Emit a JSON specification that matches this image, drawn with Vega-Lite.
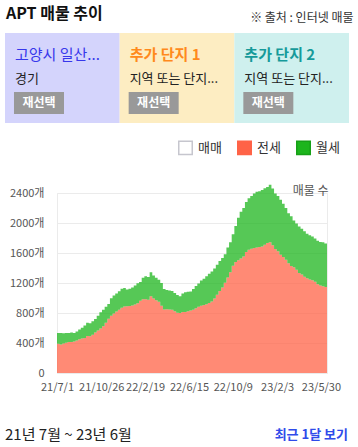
{
  "$schema": "https://vega.github.io/schema/vega-lite/v6.json",
  "padding": 0,
  "background": "white",
  "config": {"font": "Noto Sans CJK KR", "view": {"stroke": null}},
  "columns": 1,
  "spacing": 0,
  "resolve": {"scale": {"x": "independent", "y": "independent", "color": "independent", "fill": "independent", "stroke": "independent"}},
  "datasets": {
    "boxes": [
      {"slot": "1", "name": "고양시 일산...", "region": "경기", "button": "재선택"},
      {"slot": "2", "name": "추가 단지 1", "region": "지역 또는 단지...", "button": "재선택"},
      {"slot": "3", "name": "추가 단지 2", "region": "지역 또는 단지...", "button": "재선택"}
    ],
    "series": [
      {"date": "2021-07-01", "전세": 391, "월세": 142},
      {"date": "2021-07-08", "전세": 380, "월세": 153},
      {"date": "2021-07-15", "전세": 395, "월세": 135},
      {"date": "2021-07-22", "전세": 405, "월세": 128},
      {"date": "2021-07-29", "전세": 413, "월세": 122},
      {"date": "2021-08-05", "전세": 413, "월세": 127},
      {"date": "2021-08-12", "전세": 420, "월세": 113},
      {"date": "2021-08-19", "전세": 435, "월세": 120},
      {"date": "2021-08-26", "전세": 450, "월세": 130},
      {"date": "2021-09-02", "전세": 460, "월세": 145},
      {"date": "2021-09-09", "전세": 467, "월세": 165},
      {"date": "2021-09-16", "전세": 495, "월세": 175},
      {"date": "2021-09-23", "전세": 490, "월세": 172},
      {"date": "2021-09-30", "전세": 510, "월세": 180},
      {"date": "2021-10-07", "전세": 540, "월세": 180},
      {"date": "2021-10-14", "전세": 568, "월세": 194},
      {"date": "2021-10-21", "전세": 595, "월세": 215},
      {"date": "2021-10-28", "전세": 625, "월세": 220},
      {"date": "2021-11-04", "전세": 670, "월세": 215},
      {"date": "2021-11-11", "전세": 725, "월세": 195},
      {"date": "2021-11-18", "전세": 762, "월세": 236},
      {"date": "2021-11-25", "전세": 795, "월세": 240},
      {"date": "2021-12-02", "전세": 820, "월세": 240},
      {"date": "2021-12-09", "전세": 845, "월세": 245},
      {"date": "2021-12-16", "전세": 870, "월세": 252},
      {"date": "2021-12-23", "전세": 888, "월세": 244},
      {"date": "2021-12-30", "전세": 889, "월세": 226},
      {"date": "2022-01-06", "전세": 894, "월세": 228},
      {"date": "2022-01-13", "전세": 900, "월세": 240},
      {"date": "2022-01-20", "전세": 912, "월세": 254},
      {"date": "2022-01-27", "전세": 930, "월세": 266},
      {"date": "2022-02-03", "전세": 965, "월세": 250},
      {"date": "2022-02-10", "전세": 982, "월세": 288},
      {"date": "2022-02-17", "전세": 985, "월세": 304},
      {"date": "2022-02-24", "전세": 978, "월세": 302},
      {"date": "2022-03-03", "전세": 1022, "월세": 323},
      {"date": "2022-03-10", "전세": 995, "월세": 305},
      {"date": "2022-03-17", "전세": 970, "월세": 300},
      {"date": "2022-03-24", "전세": 950, "월세": 295},
      {"date": "2022-03-31", "전세": 898, "월세": 302},
      {"date": "2022-04-07", "전세": 848, "월세": 272},
      {"date": "2022-04-14", "전세": 850, "월세": 258},
      {"date": "2022-04-21", "전세": 848, "월세": 252},
      {"date": "2022-04-28", "전세": 842, "월세": 250},
      {"date": "2022-05-05", "전세": 822, "월세": 245},
      {"date": "2022-05-12", "전세": 805, "월세": 235},
      {"date": "2022-05-19", "전세": 800, "월세": 225},
      {"date": "2022-05-26", "전세": 812, "월세": 248},
      {"date": "2022-06-02", "전세": 814, "월세": 264},
      {"date": "2022-06-09", "전세": 822, "월세": 262},
      {"date": "2022-06-16", "전세": 832, "월세": 256},
      {"date": "2022-06-23", "전세": 845, "월세": 275},
      {"date": "2022-06-30", "전세": 862, "월세": 298},
      {"date": "2022-07-07", "전세": 882, "월세": 313},
      {"date": "2022-07-14", "전세": 897, "월세": 335},
      {"date": "2022-07-21", "전세": 908, "월세": 350},
      {"date": "2022-07-28", "전세": 918, "월세": 372},
      {"date": "2022-08-04", "전세": 932, "월세": 390},
      {"date": "2022-08-11", "전세": 955, "월세": 400},
      {"date": "2022-08-18", "전세": 995, "월세": 400},
      {"date": "2022-08-25", "전세": 1045, "월세": 400},
      {"date": "2022-09-01", "전세": 1092, "월세": 400},
      {"date": "2022-09-08", "전세": 1140, "월세": 395},
      {"date": "2022-09-15", "전세": 1205, "월세": 377},
      {"date": "2022-09-22", "전세": 1275, "월세": 397},
      {"date": "2022-09-29", "전세": 1345, "월세": 400},
      {"date": "2022-10-06", "전세": 1430, "월세": 420},
      {"date": "2022-10-13", "전세": 1480, "월세": 480},
      {"date": "2022-10-20", "전세": 1505, "월세": 565},
      {"date": "2022-10-27", "전세": 1528, "월세": 622},
      {"date": "2022-11-03", "전세": 1555, "월세": 645},
      {"date": "2022-11-10", "전세": 1615, "월세": 665},
      {"date": "2022-11-17", "전세": 1644, "월세": 686},
      {"date": "2022-11-24", "전세": 1658, "월세": 702},
      {"date": "2022-12-01", "전세": 1667, "월세": 728},
      {"date": "2022-12-08", "전세": 1675, "월세": 743},
      {"date": "2022-12-15", "전세": 1680, "월세": 742},
      {"date": "2022-12-22", "전세": 1688, "월세": 752},
      {"date": "2022-12-29", "전세": 1710, "월세": 755},
      {"date": "2023-01-05", "전세": 1733, "월세": 747},
      {"date": "2023-01-12", "전세": 1742, "월세": 768},
      {"date": "2023-01-19", "전세": 1705, "월세": 755},
      {"date": "2023-01-26", "전세": 1655, "월세": 737},
      {"date": "2023-02-02", "전세": 1625, "월세": 735},
      {"date": "2023-02-09", "전세": 1578, "월세": 733},
      {"date": "2023-02-16", "전세": 1547, "월세": 711},
      {"date": "2023-02-23", "전세": 1511, "월세": 689},
      {"date": "2023-03-02", "전세": 1465, "월세": 665},
      {"date": "2023-03-09", "전세": 1428, "월세": 662},
      {"date": "2023-03-16", "전세": 1410, "월세": 625},
      {"date": "2023-03-23", "전세": 1377, "월세": 615},
      {"date": "2023-03-30", "전세": 1335, "월세": 620},
      {"date": "2023-04-06", "전세": 1312, "월세": 610},
      {"date": "2023-04-13", "전세": 1285, "월세": 605},
      {"date": "2023-04-20", "전세": 1262, "월세": 596},
      {"date": "2023-04-27", "전세": 1247, "월세": 589},
      {"date": "2023-05-04", "전세": 1238, "월세": 582},
      {"date": "2023-05-11", "전세": 1218, "월세": 577},
      {"date": "2023-05-18", "전세": 1185, "월세": 577},
      {"date": "2023-05-25", "전세": 1166, "월세": 582},
      {"date": "2023-06-01", "전세": 1157, "월세": 586},
      {"date": "2023-06-08", "전세": 1148, "월세": 578},
      {"date": "2023-06-15", "전세": 1133, "월세": 565}
    ]
  },
  "concat": [
    {
      "width": 358,
      "height": 33,
      "layer": [
        {
          "data": {"values": [{"slot": "1", "label": "APT 매물 추이"}]},
          "mark": {"type": "text", "align": "left", "baseline": "middle", "dx": 1, "dy": -3, "fontSize": 16, "fontWeight": "bold", "color": "#111111"},
          "encoding": {
            "x": {"field": "slot", "type": "nominal", "bandPosition": 0, "axis": null, "scale": {"type": "band", "domain": ["1", "2", "3"], "paddingInner": 0, "paddingOuter": 0.061, "align": 0.357}},
            "text": {"field": "label"}
          }
        },
        {
          "data": {"values": [{"slot": "3", "label": "※ 출처 : 인터넷 매물"}]},
          "mark": {"type": "text", "align": "right", "baseline": "middle", "dx": 4.5, "dy": 1.5, "fontSize": 12, "color": "#333333"},
          "encoding": {
            "x": {"field": "slot", "type": "nominal", "bandPosition": 1, "axis": null, "scale": {"type": "band", "domain": ["1", "2", "3"], "paddingInner": 0, "paddingOuter": 0.061, "align": 0.357}},
            "text": {"field": "label"}
          }
        }
      ]
    },
    {
      "width": 358,
      "height": 90,
      "data": {"name": "boxes"},
      "layer": [
        {
          "mark": {"type": "rect"},
          "encoding": {
            "x": {"field": "slot", "type": "nominal", "axis": null, "scale": {"type": "band", "domain": ["1", "2", "3"], "paddingInner": 0, "paddingOuter": 0.061, "align": 0.357}},
            "fill": {"field": "slot", "type": "nominal", "legend": null, "scale": {"domain": ["1", "2", "3"], "range": ["#d4d4fc", "#fdedc2", "#cff0ee"]}}
          }
        },
        {
          "transform": [{"filter": "datum.slot === '1'"}],
          "mark": {"type": "text", "align": "left", "baseline": "middle", "dx": 10, "dy": -23, "fontSize": 15},
          "encoding": {
            "x": {"field": "slot", "type": "nominal", "bandPosition": 0, "axis": null, "scale": {"type": "band", "domain": ["1", "2", "3"], "paddingInner": 0, "paddingOuter": 0.061, "align": 0.357}},
            "text": {"field": "name"},
            "color": {"field": "slot", "type": "nominal", "legend": null, "scale": {"domain": ["1", "2", "3"], "range": ["#3737eb", "#ff8a1c", "#169a9a"]}}
          }
        },
        {
          "transform": [{"filter": "datum.slot !== '1'"}],
          "mark": {"type": "text", "align": "left", "baseline": "middle", "dx": 10, "dy": -23, "fontSize": 15, "fontWeight": "bold"},
          "encoding": {
            "x": {"field": "slot", "type": "nominal", "bandPosition": 0, "axis": null, "scale": {"type": "band", "domain": ["1", "2", "3"], "paddingInner": 0, "paddingOuter": 0.061, "align": 0.357}},
            "text": {"field": "name"},
            "color": {"field": "slot", "type": "nominal", "legend": null, "scale": {"domain": ["1", "2", "3"], "range": ["#3737eb", "#ff8a1c", "#169a9a"]}}
          }
        },
        {
          "mark": {"type": "text", "align": "left", "baseline": "middle", "dx": 10, "dy": 1, "fontSize": 13, "color": "#222222"},
          "encoding": {
            "x": {"field": "slot", "type": "nominal", "bandPosition": 0, "axis": null, "scale": {"type": "band", "domain": ["1", "2", "3"], "paddingInner": 0, "paddingOuter": 0.061, "align": 0.357}},
            "text": {"field": "region"}
          }
        },
        {
          "mark": {"type": "point", "shape": "M-1,-0.44H1V0.44H-1Z", "size": 2500, "filled": true, "color": "#999999", "opacity": 1, "xOffset": 34, "yOffset": 25},
          "encoding": {
            "x": {"field": "slot", "type": "nominal", "bandPosition": 0, "axis": null, "scale": {"type": "band", "domain": ["1", "2", "3"], "paddingInner": 0, "paddingOuter": 0.061, "align": 0.357}}
          }
        },
        {
          "mark": {"type": "text", "align": "center", "baseline": "middle", "dx": 34, "dy": 25, "fontSize": 12, "fontWeight": "bold", "color": "#ffffff"},
          "encoding": {
            "x": {"field": "slot", "type": "nominal", "bandPosition": 0, "axis": null, "scale": {"type": "band", "domain": ["1", "2", "3"], "paddingInner": 0, "paddingOuter": 0.061, "align": 0.357}},
            "text": {"field": "button"}
          }
        }
      ]
    },
    {
      "width": 10,
      "height": 17,
      "data": {"values": []},
      "mark": "rule",
      "encoding": {}
    },
    {
      "spacing": 0,
      "hconcat": [
        {
          "width": 1,
          "height": 1,
          "data": {"values": []},
          "mark": "rule",
          "encoding": {}
        },
        {
          "width": 270,
          "height": 180,
          "view": {"stroke": "#ebebeb"},
          "data": {"name": "series"},
          "transform": [{"fold": ["전세", "월세"], "as": ["type", "count"]}],
          "mark": {"type": "area", "interpolate": "step-after", "fillOpacity": 0.75, "strokeWidth": 0},
          "encoding": {
            "x": {
              "field": "date", "type": "temporal",
              "scale": {"type": "utc", "domain": [{"year": 2021, "month": 7, "date": 1, "utc": true}, {"year": 2023, "month": 6, "date": 15, "utc": true}]},
              "axis": {
                "title": null, "grid": false, "ticks": false, "domain": false, "labelPadding": 8, "labelFontSize": 11, "labelColor": "#555555", "labelFlush": false, "labelOverlap": false,
                "values": [
                  {"year": 2021, "month": 7, "date": 1, "utc": true},
                  {"year": 2021, "month": 10, "date": 26, "utc": true},
                  {"year": 2022, "month": 2, "date": 19, "utc": true},
                  {"year": 2022, "month": 6, "date": 15, "utc": true},
                  {"year": 2022, "month": 10, "date": 9, "utc": true},
                  {"year": 2023, "month": 2, "date": 3, "utc": true},
                  {"year": 2023, "month": 5, "date": 30, "utc": true}
                ],
                "labelExpr": "utcFormat(datum.value, '%y/%-m/%-d')"
              }
            },
            "y": {
              "field": "count", "type": "quantitative", "stack": "zero",
              "scale": {"domain": [0, 2400], "nice": false},
              "axis": {
                "values": [0, 400, 800, 1200, 1600, 2000, 2400],
                "labelExpr": "datum.value === 0 ? '0' : datum.value + '개'",
                "grid": true, "gridColor": "#ebebeb", "domain": false, "ticks": false,
                "labelPadding": 13, "labelFontSize": 11, "labelColor": "#555555",
                "minExtent": 55, "maxExtent": 55,
                "title": "매물 수", "titleX": 271, "titleY": 1, "titleAngle": 0, "titleAlign": "right", "titleBaseline": "alphabetic",
                "titleFontSize": 12, "titleFontWeight": "normal", "titleColor": "#555555"
              }
            },
            "color": {
              "field": "type", "type": "nominal",
              "scale": {"domain": ["매매", "전세", "월세"], "range": ["#ffffff", "#ff6347", "#1db51d"]},
              "legend": {"orient": "none", "legendX": 178, "legendY": -53, "direction": "horizontal", "title": null, "symbolType": "square", "symbolSize": 182, "symbolStrokeWidth": 1.5, "symbolOpacity": 1, "labelFontSize": 13, "labelColor": "#333333", "labelOffset": 5, "columnPadding": 12, "padding": 0}
            },
            "stroke": {
              "field": "type", "type": "nominal",
              "scale": {"domain": ["매매", "전세", "월세"], "range": ["#c6c6ce", "#ff6347", "#17a017"]},
              "legend": {"orient": "none", "legendX": 178, "legendY": -53, "direction": "horizontal", "title": null, "symbolType": "square", "symbolSize": 182, "symbolStrokeWidth": 1.5, "symbolOpacity": 1, "labelFontSize": 13, "labelColor": "#333333", "labelOffset": 5, "columnPadding": 12, "padding": 0}
            },
            "order": {"field": "type", "sort": "descending"}
          }
        }
      ]
    },
    {
      "width": 358,
      "height": 55,
      "layer": [
        {
          "data": {"values": [{"slot": "1", "label": "21년 7월 ~ 23년 6월"}]},
          "mark": {"type": "text", "align": "left", "baseline": "middle", "dx": 0, "dy": 14, "fontSize": 15, "color": "#222222"},
          "encoding": {
            "x": {"field": "slot", "type": "nominal", "bandPosition": 0, "axis": null, "scale": {"type": "band", "domain": ["1", "2", "3"], "paddingInner": 0, "paddingOuter": 0.061, "align": 0.357}},
            "text": {"field": "label"}
          }
        },
        {
          "data": {"values": [{"slot": "3", "label": "최근 1달 보기"}]},
          "mark": {"type": "text", "align": "right", "baseline": "middle", "dx": -1, "dy": 14, "fontSize": 13, "fontWeight": "bold", "color": "#2f4bea"},
          "encoding": {
            "x": {"field": "slot", "type": "nominal", "bandPosition": 1, "axis": null, "scale": {"type": "band", "domain": ["1", "2", "3"], "paddingInner": 0, "paddingOuter": 0.061, "align": 0.357}},
            "text": {"field": "label"}
          }
        }
      ]
    }
  ]
}
